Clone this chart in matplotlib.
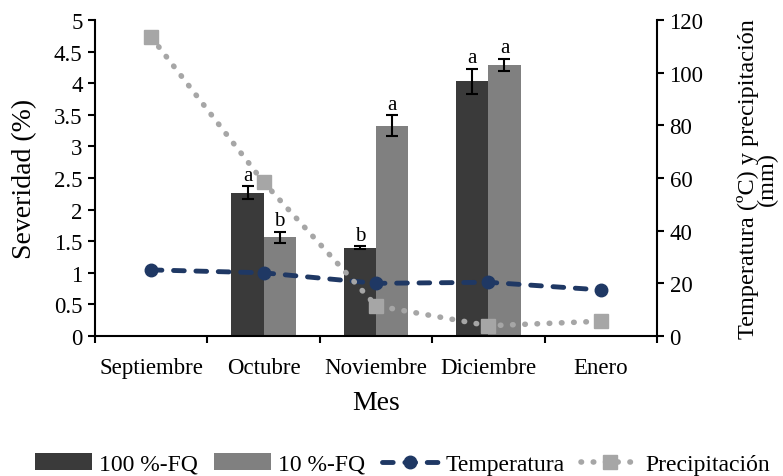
import numpy as np
import matplotlib.pyplot as plt
from matplotlib.ticker import FormatStrFormatter, FixedLocator

plt.rcParams['font.family'] = ['Liberation Serif', 'DejaVu Serif']

meses = ['Septiembre', 'Octubre', 'Noviembre', 'Diciembre', 'Enero']
sev_100 = [np.nan, 2.27, 1.40, 4.03, np.nan]
err_100 = [np.nan, 0.10, 0.02, 0.20, np.nan]
let_100 = ['', 'a', 'b', 'a', '']
sev_10 = [np.nan, 1.56, 3.33, 4.29, np.nan]
err_10 = [np.nan, 0.09, 0.16, 0.10, np.nan]
let_10 = ['', 'b', 'a', 'a', '']
temperatura = [25.1, 24.0, 20.0, 20.4, 17.5]
precipitacion = [113.5, 58.4, 11.5, 3.9, 5.6]

fig = plt.figure(figsize=(7.83, 4.77), dpi=100)
ax1 = fig.add_axes([95/783, 1 - 337/477, (657-95)/783, (337-21)/477])
x = np.arange(len(meses))
w = 0.286

b1 = ax1.bar(x - w/2, sev_100, w, color='#3a3a3a', label='100 %-FQ', zorder=2)
b2 = ax1.bar(x + w/2, sev_10, w, color='#808080', label='10 %-FQ', zorder=2)
ax1.errorbar(x - w/2, sev_100, yerr=err_100, fmt='none', ecolor='black',
             elinewidth=1.5, capsize=4, capthick=1.5, zorder=3)
ax1.errorbar(x + w/2, sev_10, yerr=err_10, fmt='none', ecolor='black',
             elinewidth=1.5, capsize=4, capthick=1.5, zorder=3)

# letras de significancia sobre cada barra
for xs, vals, errs, lets in [(x - w/2, sev_100, err_100, let_100),
                             (x + w/2, sev_10, err_10, let_10)]:
    for xi, v, e, t in zip(xs, vals, errs, lets):
        if t:
            ax1.annotate(t, (xi, v + e), xytext=(0, 1), textcoords='offset points',
                         ha='center', va='bottom', fontsize=15)

ax1.set_xlim(-0.5, 4.5)
ax1.set_ylim(0, 5)
ax1.set_yticks(np.arange(0, 5.01, 0.5))
ax1.yaxis.set_major_formatter(FormatStrFormatter('%g'))
ax1.set_xticks(x)
ax1.set_xticklabels(meses)
ax1.xaxis.set_minor_locator(FixedLocator(np.arange(-0.5, 4.6, 1)))
ax1.tick_params(axis='x', which='major', length=0, pad=15, labelsize=16.5)
ax1.tick_params(axis='x', which='minor', length=5, width=1.5, direction='out')
ax1.tick_params(axis='y', length=5, width=1.5, labelsize=16.5, pad=4)
ax1.set_ylabel('Severidad (%)', fontsize=20)
ax1.yaxis.set_label_coords(-0.103, 0.5)
ax1.set_xlabel('Mes', fontsize=20, labelpad=9)
for s in ['top', 'right']:
    ax1.spines[s].set_visible(False)
for s in ['left', 'bottom']:
    ax1.spines[s].set_linewidth(1.5)

ax2 = ax1.twinx()
l1, = ax2.plot(x, temperatura, color='#1f3864', linestyle=(0, (2.2, 2.4)), linewidth=3.5,
               dash_capstyle='round', marker='o', markersize=9, label='Temperatura')
l2, = ax2.plot(x, precipitacion, color='#a6a6a6', linestyle=(0, (0.1, 2.1)), linewidth=4,
               dash_capstyle='round', marker='s', markersize=10, label='Precipitación')
ax2.set_ylim(0, 120)
ax2.set_yticks(np.arange(0, 121, 20))
ax2.tick_params(axis='y', length=5, width=1.5, labelsize=16.5, pad=4)
ax2.set_ylabel('Temperatura (ºC) y precipitación\n(mm)', fontsize=17.5, linespacing=0.85)
ax2.yaxis.set_label_coords(1.142, 0.5)
for s in ['top', 'left', 'bottom']:
    ax2.spines[s].set_visible(False)
ax2.spines['right'].set_linewidth(1.5)

fig.legend([b1, b2, l1, l2], ['100 %-FQ', '10 %-FQ', 'Temperatura', 'Precipitación'],
           loc='center', bbox_to_anchor=(0.514, 1 - 465/477), ncol=4, frameon=False,
           fontsize=17, handlelength=2.4, columnspacing=0.7, handletextpad=0.3,
           borderaxespad=0)

fig.savefig('out.png', dpi=100)
